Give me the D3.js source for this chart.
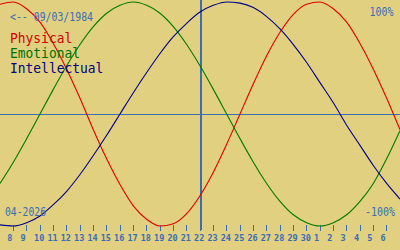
<!DOCTYPE html>
<html>
<head>
<meta charset="utf-8">
<script src="https://cdn.jsdelivr.net/npm/d3@7"></script>
<style>
  html, body { margin: 0; padding: 0; background: #e0d080; }
  svg { display: block; }
  text { font-family: "DejaVu Sans Mono", monospace; }
</style>
</head>
<body>
<svg id="chart" width="400" height="250"></svg>
<script>
// Day-of-month for each sample point (7 Apr .. 7 May)
const days = [7,8,9,10,11,12,13,14,15,16,17,18,19,20,21,22,23,24,25,26,27,28,29,30,1,2,3,4,5,6,7];
// Tick labels shown under the axis (8 .. 6)
const tickLabels = ["8","9","10","11","12","13","14","15","16","17","18","19","20","21","22","23","24","25","26","27","28","29","30","1","2","3","4","5","6"];
const todayIndex = 15; // 22
// Percent values (-100..100) read per day
const physical = [98,100,94,82,63,40,14,-14,-40,-63,-82,-94,-100,-98,-89,-73,-52,-27,0,27,52,73,89,98,100,94,82,63,40,14,-14];
const emotional = [-62,-43,-22,0,22,43,62,78,90,97,100,97,90,78,62,43,22,0,-22,-43,-62,-78,-90,-97,-100,-97,-90,-78,-62,-40,-15];
const intellectual = [-99,-100,-97,-91,-81,-69,-54,-37,-19,0,19,37,54,69,81,91,97,100,99,95,87,76,62,46,28,10,-10,-28,-46,-62,-76];
const seriesNames = ["Physical","Emotional","Intellectual"];
const seriesColors = ["#e00000","#007a00","#000088"];
const textColors = ["#d00000","#007000","#000080"];
const birthLabel = "<-- 09/03/1984";
const monthLabel = "04-2026";
const topLabel = "100%";
const bottomLabel = "-100%";

const W = 400, H = 250;
const BLUE = "#3b6db5";
const svg = d3.select("#chart");

const x = d3.scaleLinear().domain([0, days.length - 1]).range([0, W]);
const y = d3.scaleLinear().domain([-100, 100]).range([226, 2]);

// Background
svg.append("rect").attr("width", W).attr("height", H).attr("fill", "#e0d080");

// Center (0%) line
svg.append("line")
  .attr("x1", 0).attr("x2", W)
  .attr("y1", Math.floor(y(0)) + 0.5).attr("y2", Math.floor(y(0)) + 0.5)
  .attr("stroke", BLUE).attr("stroke-width", 1)
  .attr("shape-rendering", "crispEdges");

// Today vertical line
svg.append("rect")
  .attr("x", Math.floor(x(todayIndex))).attr("y", 0)
  .attr("width", 2).attr("height", 230)
  .attr("fill", BLUE);

// Axis ticks + labels (custom, via scale)
const tickData = tickLabels.map((t, i) => ({ label: t, idx: i + 1 }));
const tg = svg.append("g");
tg.selectAll("line").data(tickData).join("line")
  .attr("x1", d => Math.floor(x(d.idx)) + 0.5)
  .attr("x2", d => Math.floor(x(d.idx)) + 0.5)
  .attr("y1", 225).attr("y2", 231)
  .attr("stroke", BLUE).attr("stroke-width", 1)
  .attr("shape-rendering", "crispEdges");
tg.selectAll("text").data(tickData).join("text")
  .attr("x", d => x(d.idx) + (d.label.length === 1 ? -3.5 : -0.8))
  .attr("y", 241)
  .attr("text-anchor", "middle")
  .attr("font-size", 8.5)
  .attr("font-weight", "bold")
  .attr("fill", BLUE)
  .text(d => d.label);

// Curves
const line = d3.line()
  .x((d, i) => x(i))
  .y(d => y(d))
  .curve(d3.curveMonotoneX);
[physical, emotional, intellectual].forEach((s, i) => {
  svg.append("path")
    .attr("d", line(s))
    .attr("fill", "none")
    .attr("stroke", seriesColors[i])
    .attr("stroke-width", 1.1);
});

// Texts
function txt(str, xx, yy, size, color, anchor, len) {
  const t = svg.append("text")
    .attr("x", xx).attr("y", yy)
    .attr("font-size", size)
    .attr("fill", color)
    .attr("text-anchor", anchor || "start")
    .text(str);
  if (len) t.attr("textLength", len).attr("lengthAdjust", "spacingAndGlyphs");
  return t;
}
txt(birthLabel, 10, 21, 11.5, BLUE, "start", 83);
txt(topLabel, 393.5, 16, 11.5, BLUE, "end", 24);
txt(bottomLabel, 395, 216, 11.5, BLUE, "end", 30);
txt(monthLabel, 5, 216, 11.5, BLUE, "start", 41);
seriesNames.forEach((n, i) => {
  txt(n, 10, 43 + i * 15, 13.5, textColors[i], "start", n.length * 7.78);
});
</script>
</body>
</html>
